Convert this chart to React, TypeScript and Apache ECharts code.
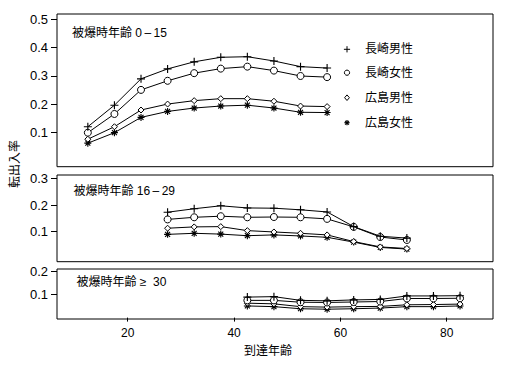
import React, { useEffect, useRef } from "react";
import * as echarts from "echarts";

const seriesNames = ["長崎男性", "長崎女性", "広島男性", "広島女性"];
const panelTitles = ["被爆時年齢 0\u2009–\u200915", "被爆時年齢 16\u2009–\u200929", "被爆時年齢 ≥  30"];
const xTicks = [20, 40, 60, 80];
const yTicksTop = [0.1, 0.2, 0.3, 0.4, 0.5];
const yTicksMid = [0.1, 0.2, 0.3];
const yTicksBot = [0.1, 0.2];

const ages0 = [12.5, 17.5, 22.5, 27.5, 32.5, 37.5, 42.5, 47.5, 52.5, 57.5];
const nm0 = [0.121, 0.197, 0.29, 0.325, 0.35, 0.366, 0.368, 0.353, 0.333, 0.328];
const nf0 = [0.1, 0.166, 0.251, 0.283, 0.31, 0.326, 0.333, 0.319, 0.3, 0.296];
const hm0 = [0.077, 0.121, 0.18, 0.201, 0.213, 0.22, 0.22, 0.211, 0.194, 0.192];
const hf0 = [0.063, 0.1, 0.154, 0.175, 0.187, 0.194, 0.197, 0.187, 0.172, 0.171];

const ages1 = [27.5, 32.5, 37.5, 42.5, 47.5, 52.5, 57.5, 62.5, 67.5, 72.5];
const nm1 = [0.173, 0.186, 0.197, 0.189, 0.188, 0.182, 0.174, 0.119, 0.083, 0.076];
const nf1 = [0.146, 0.154, 0.158, 0.154, 0.155, 0.154, 0.148, 0.118, 0.08, 0.069];
const hm1 = [0.113, 0.118, 0.119, 0.104, 0.099, 0.094, 0.088, 0.063, 0.043, 0.037];
const hf1 = [0.09, 0.094, 0.091, 0.085, 0.088, 0.084, 0.079, 0.061, 0.041, 0.035];

const ages2 = [42.5, 47.5, 52.5, 57.5, 62.5, 67.5, 72.5, 77.5, 82.5];
const nm2 = [0.088, 0.09, 0.074, 0.072, 0.076, 0.078, 0.093, 0.093, 0.094];
const nf2 = [0.074, 0.074, 0.066, 0.065, 0.067, 0.069, 0.082, 0.082, 0.083];
const hm2 = [0.062, 0.059, 0.047, 0.045, 0.047, 0.048, 0.055, 0.056, 0.058];
const hf2 = [0.05, 0.047, 0.038, 0.036, 0.038, 0.041, 0.047, 0.047, 0.05];

const FONT = '"Liberation Sans", "Noto Sans CJK JP", sans-serif';

const PLUS = "path://M4.3,0H5.7V4.3H10V5.7H5.7V10H4.3V5.7H0V4.3H4.3Z";
const STAR =
  "path://M0,4.2H10V5.8H0Z M4.2,0H5.8V10H4.2Z M2.03,0.9L9.1,7.97L7.97,9.1L0.9,2.03Z M9.1,2.03L2.03,9.1L0.9,7.97L7.97,0.9Z";

const symbolDefs = [
  { symbol: PLUS, size: 8, itemStyle: { color: "#000", borderWidth: 0 } },
  { symbol: "circle", size: 7, itemStyle: { color: "#fff", borderColor: "#000", borderWidth: 1 } },
  { symbol: "diamond", size: 6, itemStyle: { color: "#fff", borderColor: "#000", borderWidth: 1 } },
  { symbol: STAR, size: 7, itemStyle: { color: "#000", borderWidth: 0 } },
];

const panels = [
  { ages: ages0, vals: [nm0, nf0, hm0, hf0], ticks: yTicksTop, top: 14, height: 152.7, min: -0.02, max: 0.5187, titleX: 72, titleY: 33 },
  { ages: ages1, vals: [nm1, nf1, hm1, hf1], ticks: yTicksMid, top: 175, height: 86.7, min: -0.0124, max: 0.3124, titleX: 73.5, titleY: 191 },
  { ages: ages2, vals: [nm2, nf2, hm2, hf2], ticks: yTicksBot, top: 269, height: 50, min: -0.006, max: 0.2086, titleX: 76.5, titleY: 282 },
];

export default function App() {
  const ref = useRef<HTMLDivElement>(null);
  useEffect(() => {
    if (!ref.current) return;
    const chart = echarts.init(ref.current, undefined, { renderer: "svg" });
    const grid = panels.map((p) => ({
      left: 57,
      top: p.top,
      width: 436,
      height: p.height,
      show: true,
      borderColor: "#000",
      borderWidth: 1,
      backgroundColor: "transparent",
    }));
    const xAxis = panels.map((p, i) => ({
      type: "value",
      gridIndex: i,
      min: 6.7,
      max: 88.7,
      axisLine: { show: false },
      splitLine: { show: false },
      axisTick: {
        show: i === 2,
        customValues: xTicks,
        length: 4,
        lineStyle: { color: "#000" },
      },
      axisLabel: {
        show: i === 2,
        customValues: xTicks,
        margin: 8,
        color: "#000",
        fontSize: 12,
        fontFamily: FONT,
      },
    }));
    const yAxis = panels.map((p, i) => ({
      type: "value",
      gridIndex: i,
      min: p.min,
      max: p.max,
      axisLine: { show: false },
      splitLine: { show: false },
      axisTick: { show: true, customValues: p.ticks, length: 6, lineStyle: { color: "#000" } },
      axisLabel: {
        customValues: p.ticks,
        margin: 9,
        color: "#000",
        fontSize: 13,
        fontFamily: FONT,
        formatter: (v: number) => v.toFixed(1),
      },
    }));
    const series: any[] = [];
    panels.forEach((p, i) => {
      p.vals.forEach((vals, k) => {
        series.push({
          type: "line",
          name: seriesNames[k],
          xAxisIndex: i,
          yAxisIndex: i,
          data: p.ages.map((a, j) => [a, vals[j]]),
          symbol: symbolDefs[k].symbol,
          symbolSize: symbolDefs[k].size,
          showAllSymbol: true,
          itemStyle: symbolDefs[k].itemStyle,
          lineStyle: { color: "#000", width: 1 },
          z: 2 + (3 - k),
        });
      });
    });

    const legendX = 347;
    const legendText = 365;
    const legendYs = [49.3, 72.7, 97.7, 122.7];
    const s = 2.6;
    const legendMarkers: any[] = [
      { type: "line", shape: { x1: legendX - s - 0.5, y1: legendYs[0], x2: legendX + s + 0.5, y2: legendYs[0] }, style: { stroke: "#000", lineWidth: 1 } },
      { type: "line", shape: { x1: legendX, y1: legendYs[0] - s - 0.5, x2: legendX, y2: legendYs[0] + s + 0.5 }, style: { stroke: "#000", lineWidth: 1 } },
      { type: "circle", shape: { cx: legendX, cy: legendYs[1], r: 2.6 }, style: { fill: "#fff", stroke: "#000", lineWidth: 1 } },
      { type: "polygon", shape: { points: [[legendX, legendYs[2] - 2.8], [legendX + 2.4, legendYs[2]], [legendX, legendYs[2] + 2.8], [legendX - 2.4, legendYs[2]]] }, style: { fill: "#fff", stroke: "#000", lineWidth: 1 } },
      { type: "line", shape: { x1: legendX - s, y1: legendYs[3], x2: legendX + s, y2: legendYs[3] }, style: { stroke: "#000", lineWidth: 1.2 } },
      { type: "line", shape: { x1: legendX, y1: legendYs[3] - s, x2: legendX, y2: legendYs[3] + s }, style: { stroke: "#000", lineWidth: 1.2 } },
      { type: "line", shape: { x1: legendX - 1.9, y1: legendYs[3] - 1.9, x2: legendX + 1.9, y2: legendYs[3] + 1.9 }, style: { stroke: "#000", lineWidth: 1.2 } },
      { type: "line", shape: { x1: legendX + 1.9, y1: legendYs[3] - 1.9, x2: legendX - 1.9, y2: legendYs[3] + 1.9 }, style: { stroke: "#000", lineWidth: 1.2 } },
    ];
    const legendTexts = seriesNames.map((n, k) => ({
      type: "text",
      x: legendText,
      y: legendYs[k],
      style: { text: n, fill: "#000", font: `12px ${FONT}`, textAlign: "left", textVerticalAlign: "middle" },
    }));
    const titles = panels.map((p, i) => ({
      type: "text",
      x: p.titleX,
      y: p.titleY,
      style: { text: panelTitles[i], fill: "#000", font: `12px ${FONT}`, textAlign: "left", textVerticalAlign: "middle" },
    }));

    chart.setOption({
      animation: false,
      backgroundColor: "#fff",
      grid,
      xAxis,
      yAxis,
      series,
      graphic: [
        ...titles,
        ...legendMarkers,
        ...legendTexts,
        {
          type: "text",
          x: 15,
          y: 164,
          rotation: Math.PI / 2,
          style: { text: "転出入率", fill: "#000", font: `12px ${FONT}`, textAlign: "center", textVerticalAlign: "middle" },
        },
        {
          type: "text",
          x: 268,
          y: 351,
          style: { text: "到達年齢", fill: "#000", font: `12px ${FONT}`, textAlign: "center", textVerticalAlign: "middle" },
        },
      ],
    });
    return () => chart.dispose();
  }, []);
  return (
    <div
      ref={ref}
      style={{ position: "absolute", left: 0, top: 0, width: 508, height: 368, background: "#fff" }}
    />
  );
}
